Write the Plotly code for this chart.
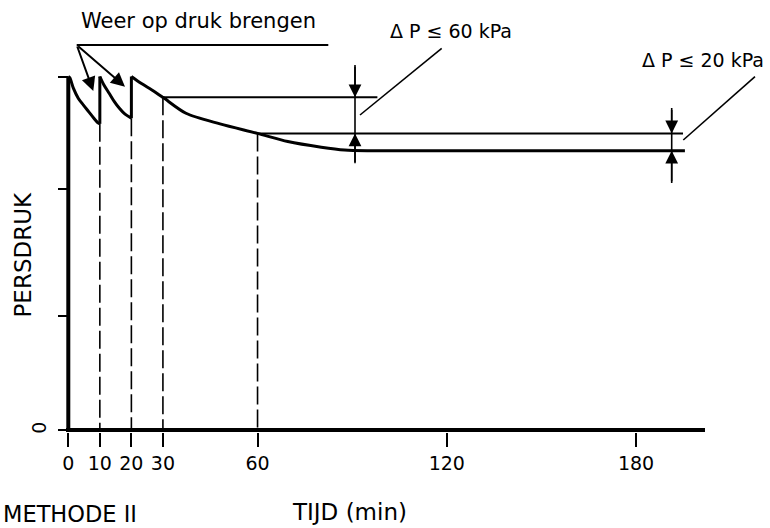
import plotly.graph_objects as go

# ---------------- data ----------------
# time in minutes, pressure in % of the test pressure (arbitrary sketch units)
seg1_t = [0, 0.5, 1.6, 3.2, 4.8, 6.5, 8.1, 9.4, 10]
seg1_p = [100, 99.6, 96.7, 93.8, 91.9, 90.0, 88.2, 86.9, 86.6]
seg2_t = [10, 11.3, 13.0, 14.6, 16.2, 17.9, 20]
seg2_p = [100, 97.6, 95.2, 92.9, 91.0, 89.4, 88.2]
seg3_t = [20, 23.2, 26.5, 30, 37.3, 48.1, 60, 69.6, 80.2, 87.6, 96.1, 195.5]
seg3_p = [100, 98.0, 96.2, 94.1, 89.6, 86.6, 83.9, 81.6, 80.0, 79.2, 79.0, 79.0]

repress_t = [10, 20]            # moments the line is brought back to pressure
repress_from = [86.6, 88.2]
p_start = 100

dash_t = [10, 20, 30, 60]       # reading moments
dash_p = [86.6, 88.2, 94.1, 83.9]

band60_p = [94.1, 83.9]         # ΔP <= 60 kPa band (30 -> 60 min)
band60_t = [30, 60]
band60_end = [98, 194.9]
band20_p = [83.9, 79.0]         # ΔP <= 20 kPa band

x_ticks = [0, 10, 20, 30, 60, 120, 180]
y_ticks = [0, 32.2, 68.2, 100]

# ---------------- figure geometry helpers (decorations only) ----------------
W, H = 770, 528
X0, SX = 68.3, 3.154      # pixel of t=0, pixels per minute
Y0, SY = 430.0, 3.535     # pixel of p=0, pixels per unit
PLOT_B = 432              # bottom of plot area in pixels


def tx(px):
    return (px - X0) / SX


def ty(py):
    return (Y0 - py) / SY


BLACK = "black"
FONT = "DejaVu Sans"

fig = go.Figure()


def line(xs, ys, width, dash=None):
    fig.add_trace(go.Scatter(x=xs, y=ys, mode="lines",
                             line=dict(color=BLACK, width=width, dash=dash),
                             hoverinfo="skip", showlegend=False))


# axes lines
line([tx(66), tx(705)], [0, 0], 4)
line([0, 0], [0, p_start], 4)

# dashed reading lines
dx, dy = [], []
for t, p in zip(dash_t, dash_p):
    dx += [t, t, None]
    dy += [p, 0, None]
line(dx, dy, 1.6, dash="18px,5px")

# horizontal reference levels
line([band60_t[0], band60_end[0]], [band60_p[0], band60_p[0]], 2)
line([band60_t[1], band60_end[1]], [band60_p[1], band60_p[1]], 2)

# pressure curve
for xs, ys in [(seg1_t, seg1_p), (seg2_t, seg2_p), (seg3_t, seg3_p)]:
    fig.add_trace(go.Scatter(x=xs, y=ys, mode="lines",
                             line=dict(color=BLACK, width=3, shape="spline", smoothing=0.8),
                             hoverinfo="skip", showlegend=False))
jx, jy = [], []
for t, p in zip(repress_t, repress_from):
    jx += [t, t, None]
    jy += [p, p_start, None]
line(jx, jy, 3)

# ΔP dimension lines
a1 = tx(355)
a2 = tx(671.7)
line([a1, a1], [ty(65), ty(163.3)], 1.6)
line([a2, a2], [ty(108), ty(183)], 1.6)

# leader lines
line([tx(360), tx(441.7)], [ty(115), ty(48.3)], 1.6)
line([tx(683.3), tx(755)], [ty(140), ty(76.7)], 1.6)
# bracket of "Weer op druk brengen"
line([tx(76.7), tx(328.3)], [ty(45), ty(45)], 2)

annotations = []


def arrow(x, y, ax, ay, width, size):
    annotations.append(dict(x=x, y=y, xref="x", yref="y", ax=ax, ay=ay,
                            text="", showarrow=True, arrowhead=2,
                            arrowsize=size, arrowwidth=width, arrowcolor=BLACK))


arrow(a1, band60_p[0], 0, -32, 1.6, 1.6)
arrow(a1, band60_p[1], 0, 30, 1.6, 1.6)
arrow(a2, band20_p[0], 0, -25, 1.6, 1.6)
arrow(a2, band20_p[1], 0, 32, 1.6, 1.6)
arrow(tx(93.3), ty(91), 76.7 - 93.3, 45 - 91, 2, 1.4)
arrow(tx(125), ty(86.7), 76.7 - 125, 45 - 86.7, 2, 1.4)


def text(s, px, py, size, angle=0, xanchor="center"):
    annotations.append(dict(x=px / W, y=(PLOT_B - py) / PLOT_B, xref="paper", yref="paper",
                            text=s, showarrow=False, textangle=angle,
                            xanchor=xanchor, yanchor="middle",
                            font=dict(family=FONT, size=size, color=BLACK)))


text("Weer op druk brengen", 199, 21, 21)
text("Δ P ≤ 60 kPa", 450.5, 31, 19)
text("Δ P ≤ 20 kPa", 702.5, 59.5, 19)
text("PERSDRUK", 22.5, 255, 23, angle=-90)
text("0", 38.3, 427.5, 19, angle=-90)
text("METHODE II", 1, 513.5, 22.5, xanchor="left")
text("TIJD (min)", 349, 512, 23)

fig.update_layout(
    width=W, height=H,
    margin=dict(l=0, r=0, t=0, b=H - PLOT_B),
    paper_bgcolor="white", plot_bgcolor="white",
    showlegend=False,
    annotations=annotations,
    xaxis=dict(range=[tx(0), tx(W)], domain=[0, 1], showgrid=False, zeroline=False,
               showline=False, ticks="outside", ticklen=14, tickwidth=2, tickcolor=BLACK,
               tickvals=x_ticks, ticktext=[str(v) for v in x_ticks],
               tickfont=dict(family=FONT, size=19, color=BLACK)),
    yaxis=dict(range=[ty(PLOT_B), ty(0)], anchor="free", position=X0 / W,
               showgrid=False, zeroline=False, showline=False,
               ticks="outside", ticklen=10, tickwidth=2, tickcolor=BLACK,
               tickvals=y_ticks, showticklabels=False),
)

fig.write_html("out.html", config={"displayModeBar": False},
               post_script="document.body.style.margin='0';")
